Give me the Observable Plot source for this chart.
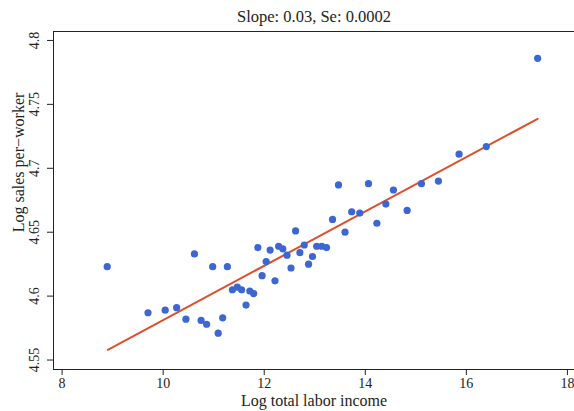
<!DOCTYPE html>
<html>
<head>
<meta charset="utf-8">
<script src="https://cdn.jsdelivr.net/npm/d3@7"></script>
<script src="https://cdn.jsdelivr.net/npm/@observablehq/plot@0.6"></script>
<style>
  body { margin: 0; background: #fff; }
  svg { display: block; }
</style>
</head>
<body>
<div id="chart"></div>
<script>
const titleText = "Slope: 0.03, Se: 0.0002";
const xLabel = "Log total labor income";
const yLabel = "Log sales per\u2212worker";

const logIncome = [8.893, 9.700, 10.040, 10.267, 10.451, 10.619, 10.751, 10.860, 10.980, 11.089,
  11.178, 11.271, 11.370, 11.468, 11.553, 11.640, 11.715, 11.791, 11.874, 11.958,
  12.038, 12.117, 12.213, 12.285, 12.368, 12.451, 12.530, 12.621, 12.706, 12.792,
  12.877, 12.955, 13.038, 13.138, 13.233, 13.352, 13.470, 13.599, 13.731, 13.891,
  14.063, 14.229, 14.407, 14.557, 14.828, 15.111, 15.447, 15.856, 16.395, 17.411];
const logSales = [4.623, 4.587, 4.589, 4.591, 4.582, 4.633, 4.581, 4.578, 4.623, 4.571,
  4.583, 4.623, 4.605, 4.607, 4.605, 4.593, 4.604, 4.602, 4.638, 4.616,
  4.627, 4.636, 4.612, 4.639, 4.637, 4.632, 4.622, 4.651, 4.634, 4.640,
  4.625, 4.631, 4.639, 4.639, 4.638, 4.660, 4.687, 4.650, 4.666, 4.665,
  4.688, 4.657, 4.672, 4.683, 4.667, 4.688, 4.690, 4.711, 4.717, 4.786];

const fitX = [8.905, 17.411];
const fitY = [4.558, 4.7387];

const xTicks = [8, 10, 12, 14, 16, 18];
const yTicks = [4.55, 4.6, 4.65, 4.7, 4.75, 4.8];

const points = logIncome.map((x, i) => ({x, y: logSales[i]}));
const fit = fitX.map((x, i) => ({x, y: fitY[i]}));

const font = "'Liberation Serif', 'DejaVu Serif', serif";

const chart = Plot.plot({
  width: 574,
  height: 411,
  marginTop: 31,
  marginLeft: 53,
  marginRight: 0,
  marginBottom: 42,
  style: {fontFamily: font, fontSize: "14px", color: "#222", background: "#fff"},
  x: {domain: [7.83, 18.14], ticks: xTicks},
  y: {domain: [4.5426, 4.807], ticks: yTicks},
  marks: [
    Plot.frame({stroke: "#222", strokeWidth: 1}),
    Plot.axisX({ticks: xTicks, tickSize: 6, tickPadding: 3, fontSize: 14, label: null, stroke: "#222"}),
    Plot.axisY({ticks: yTicks, tickSize: 6, tickFormat: () => "", label: null, stroke: "#222"}),
    Plot.text(yTicks, {y: d => d, text: d => String(d), frameAnchor: "left", dx: -19, rotate: -90,
      textAnchor: "middle", lineAnchor: "middle", fontSize: 14, fill: "#222"}),
    Plot.text([xLabel], {text: d => d, frameAnchor: "bottom", dy: 31, lineAnchor: "middle", fontSize: 16, fill: "#222"}),
    Plot.text([yLabel], {text: d => d, frameAnchor: "left", dx: -35, dy: -38, rotate: -90,
      textAnchor: "middle", lineAnchor: "middle", fontSize: 16, fill: "#222"}),
    Plot.text([titleText], {text: d => d, frameAnchor: "top", dy: -15, lineAnchor: "middle", fontSize: 16.5, fill: "#222"}),
    Plot.line(fit, {x: "x", y: "y", stroke: "#de4f2e", strokeWidth: 2}),
    Plot.dot(points, {x: "x", y: "y", r: 3.6, fill: "#3c66d2", stroke: "none"})
  ]
});
document.getElementById("chart").appendChild(chart);
</script>
</body>
</html>
